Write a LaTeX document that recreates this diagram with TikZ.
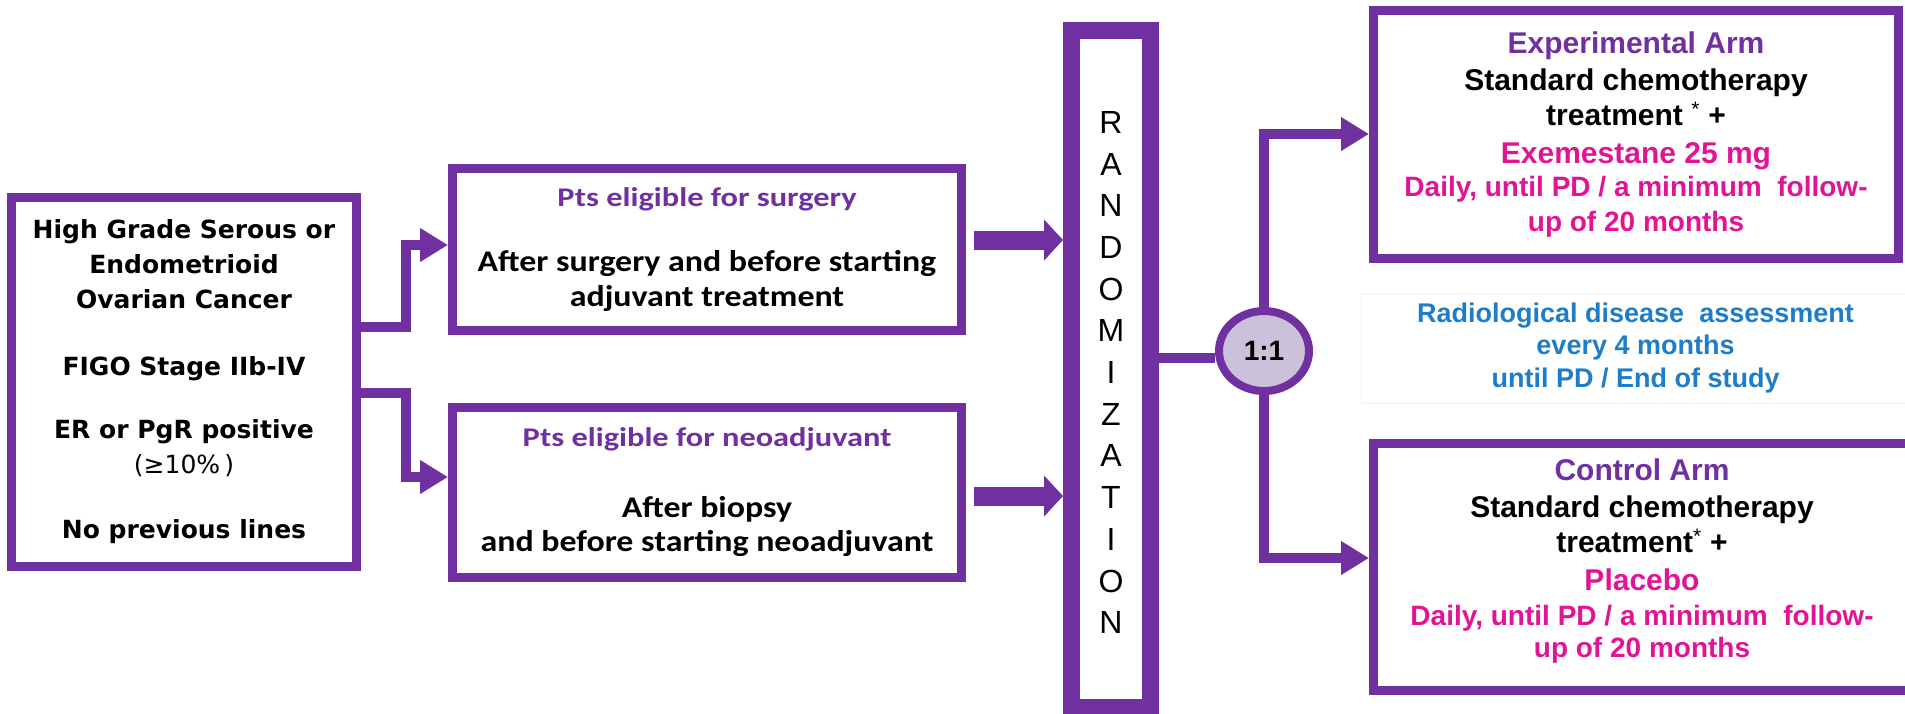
\documentclass[tikz,border=0pt]{standalone}
\usepackage{fontspec}
\setmainfont{Liberation Sans}
\newfontfamily\calib[FakeStretch=1.13]{Carlito}
\newfontfamily\calibT[FakeStretch=1.2]{Carlito}
\newfontfamily\dejavu{DejaVu Sans}
\usetikzlibrary{arrows.meta,shapes.geometric}
\definecolor{mypurple}{RGB}{112,48,160}
\definecolor{mypink}{RGB}{225,20,150}
\definecolor{myblue}{RGB}{30,125,200}
\definecolor{lav}{RGB}{204,193,218}
\tikzset{
  box/.style={draw=mypurple, line width=9pt, fill=white, align=center, inner sep=0pt, rectangle},
  conn/.style={draw=mypurple, line width=10pt, -{Triangle[length=28pt,width=32pt]}},
  bigarrow/.style={draw=mypurple, line width=19pt, -{Triangle[length=19pt,width=40pt]}},
  leftfont/.style={font=\dejavu\bfseries\fontsize{25}{35}\selectfont},
  midfont/.style={font=\calib\bfseries\fontsize{30}{34.5}\selectfont},
  rightfont/.style={font=\bfseries\fontsize{30}{35}\selectfont},
}
\newcommand{\midtitle}[1]{{\calibT\bfseries\fontsize{27}{34.5}\selectfont\color{mypurple}#1}}
\begin{document}
\begin{tikzpicture}[x=1pt,y=-1pt]
\useasboundingbox (0,0) rectangle (1905,713);
\clip (0,0) rectangle (1905,713);
\fill[white] (0,0) rectangle (1905,713);

% left box
\node[box, leftfont, minimum width=345pt, minimum height=369pt] (L) at (184,382)
 {High Grade Serous or\\Endometrioid\\Ovarian Cancer\\[32pt]FIGO Stage IIb-IV\\[28pt]ER or PgR positive\\{\mdseries (≥10\%\,)}\\[30pt]No previous lines};

% middle boxes
\node[box, midfont, minimum width=509pt, minimum height=162pt] (S) at (707,249.5)
 {\midtitle{Pts eligible for surgery}\\[30.5pt]After surgery and before starting\\adjuvant treatment};
\node[box, midfont, minimum width=509pt, minimum height=170pt] (N) at (707,492.5)
 {\midtitle{Pts eligible for neoadjuvant}\\[36pt]After biopsy\\and before starting neoadjuvant};

% randomization
\node[box, line width=17pt, font=\fontsize{32}{41.7}\selectfont, minimum width=79pt, minimum height=677pt] (R) at (1111,369)
 {\rule{0pt}{29pt}R\\A\\N\\D\\O\\M\\I\\Z\\A\\T\\I\\O\\N};

% circle
\node[ellipse, draw=mypurple, line width=8pt, fill=lav, minimum width=90pt, minimum height=80pt, inner sep=0pt, font=\bfseries\fontsize{28}{30}\selectfont] (C) at (1264,351) {1:1};

% right boxes
\node[box, rightfont, minimum width=525pt, minimum height=248pt] (E) at (1636,134.5)
 {{\color{mypurple}Experimental Arm}\\[2pt]Standard chemotherapy\\treatment \textsuperscript{\mdseries *} +\\[3pt]{\color{mypink}Exemestane 25 mg}\\[-2pt]{\color{mypink}\fontsize{28}{33}\selectfont Daily, until PD / a minimum\ \ follow-}\\{\color{mypink}\fontsize{28}{33}\selectfont up of 20\ months}};
\node[box, rightfont, minimum width=537pt, minimum height=247pt] (K) at (1642,567)
 {{\color{mypurple}Control Arm}\\[2pt]Standard chemotherapy\\treatment\textsuperscript{\mdseries *} +\\[3pt]{\color{mypink}Placebo}\\{\color{mypink}\fontsize{28}{33}\selectfont Daily, until PD / a minimum\ \ follow-}\\[-3pt]{\color{mypink}\fontsize{28}{33}\selectfont up of 20\ months}\rule[-17pt]{0pt}{1pt}};

% radiological
\node[draw=black!5, line width=1pt, fill=white, align=center, inner sep=0pt, minimum width=549pt, minimum height=110pt, text=myblue, font=\bfseries\fontsize{27}{32.5}\selectfont] (Rad) at (1635.5,348)
 {Radiological disease\ \ assessment\\every 4 months\\until PD / End of study};

% connectors
\draw[conn] (L.east |- 0,327) -| (406,245) -- (S.west |- 0,245);
\draw[conn] (L.east |- 0,393) -| (406,477) -- (N.west |- 0,477);
\draw[bigarrow] ([xshift=8pt]S.east |- 0,240) -- (R.west |- 0,240);
\draw[bigarrow] ([xshift=8pt]N.east |- 0,496) -- (R.west |- 0,496);
\draw[draw=mypurple, line width=10pt] (R.east |- 0,358) -- (C.west |- 0,358);
\draw[conn] (C.north) |- (E.west |- 0,134);
\draw[conn] (C.south) |- (K.west |- 0,558);
\end{tikzpicture}
\end{document}
